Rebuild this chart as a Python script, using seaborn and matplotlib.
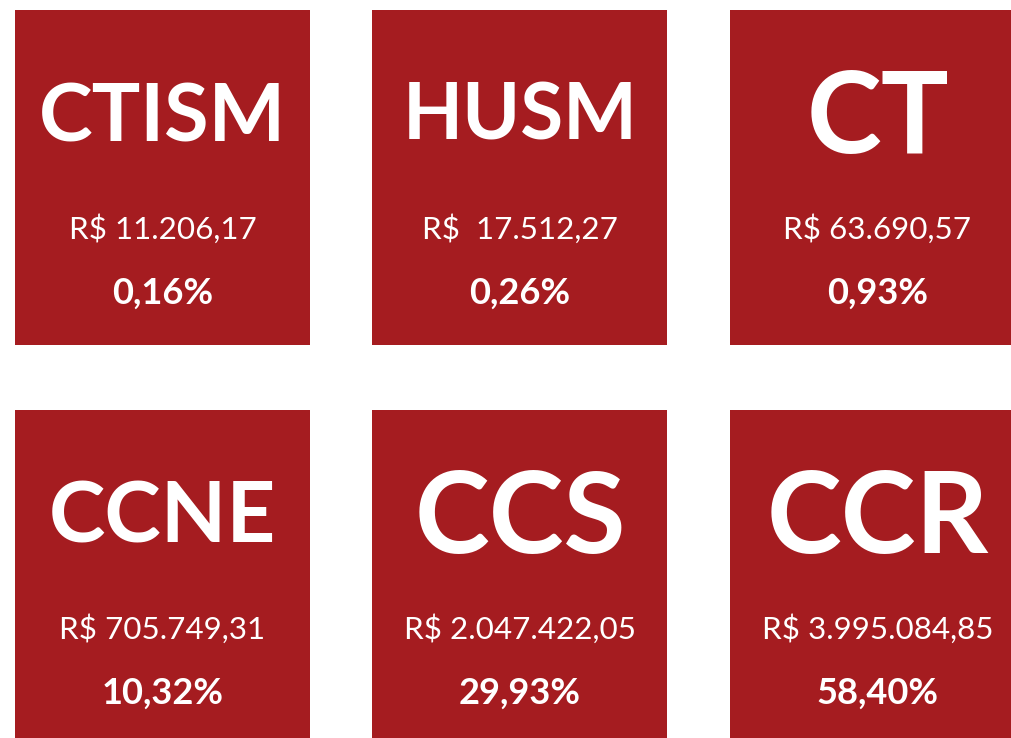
import matplotlib.pyplot as plt
import seaborn as sns
from matplotlib.patches import Rectangle

# Data
units = ["CTISM", "HUSM", "CT", "CCNE", "CCS", "CCR"]
amounts = ["R$ 11.206,17", "R$  17.512,27", "R$ 63.690,57",
           "R$ 705.749,31", "R$ 2.047.422,05", "R$ 3.995.084,85"]
shares = ["0,16%", "0,26%", "0,93%", "10,32%", "29,93%", "58,40%"]

# Style
title_sizes = [58, 56, 81, 61, 81, 81]  # cap height in px
tile_color = "#A51C20"

sns.set_theme(style="white")
plt.rcParams["font.family"] = ["Lato", "DejaVu Sans"]

W, H, DPI = 1012, 738, 100
fig = plt.figure(figsize=(W / DPI, H / DPI), dpi=DPI)
ax = fig.add_axes([0, 0, 1, 1])
ax.set_xlim(0, W)
ax.set_ylim(H, 0)
ax.axis("off")

CAP = 0.7165          # Lato cap-height / em
px2pt = 72 / DPI
tile_w, tile_h = 295, 335
col_x = [15, 372.5, 730]
row_y = [10, 410]

for i, (name, amt, pct) in enumerate(zip(units, amounts, shares)):
    x0 = col_x[i % 3]
    y0 = row_y[i // 3]
    ax.add_patch(Rectangle((x0, y0), tile_w, tile_h, color=tile_color, lw=0))
    cx = x0 + tile_w / 2
    cap = title_sizes[i]
    ax.text(cx, y0 + 102 + cap / 2, name, ha="center", va="baseline",
            color="white", fontweight="bold", fontsize=cap / CAP * px2pt)
    ax.text(cx, y0 + 229, amt, ha="center", va="baseline",
            color="white", fontweight="normal", fontsize=22.5 / CAP * px2pt)
    ax.text(cx, y0 + 294, pct, ha="center", va="baseline",
            color="white", fontweight="bold", fontsize=26 / CAP * px2pt)

fig.savefig("out.png", dpi=DPI, facecolor="white")
